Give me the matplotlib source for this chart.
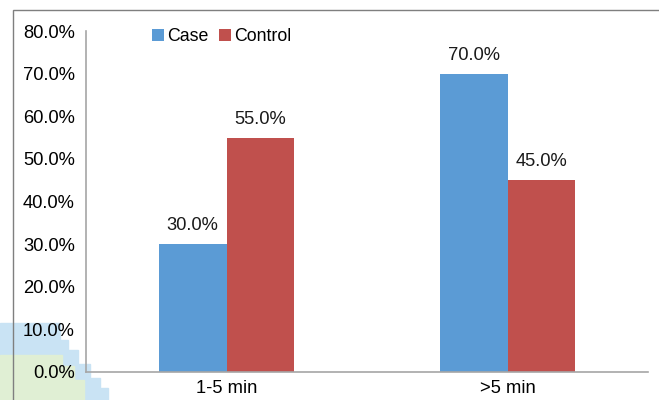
import numpy as np
import matplotlib.pyplot as plt
from matplotlib.patches import Rectangle, Polygon

categories = ['1-5 min', '>5 min']
case_vals = [30.0, 70.0]
control_vals = [55.0, 45.0]
yticks = [0, 10, 20, 30, 40, 50, 60, 70, 80]

plt.rcParams['font.family'] = ['Liberation Sans', 'DejaVu Sans']

fig = plt.figure(figsize=(6.59, 4.0), dpi=100)
W, H = 659.0, 400.0

# faint watermark blocks in the lower left corner (behind everything)
blue_pts = [(0, 323), (60, 323), (60, 340), (68, 340), (68, 350), (78, 350), (78, 364),
            (90, 364), (90, 378), (100, 378), (100, 388), (108, 388), (108, 400), (0, 400)]
green_pts = [(0, 355), (62, 355), (62, 366), (74, 366), (74, 380), (84, 380), (84, 400), (0, 400)]
fig.patches.append(Polygon([(x / W, 1 - y / H) for x, y in blue_pts], closed=True,
                           transform=fig.transFigure, color='#c9e3f4', zorder=-2))
fig.patches.append(Polygon([(x / W, 1 - y / H) for x, y in green_pts], closed=True,
                           transform=fig.transFigure, color='#e0efd4', zorder=-2))

# outer frame
fig.patches.append(Rectangle((13 / W, -0.05), 1.0, 1 - 10 / H + 0.05, transform=fig.transFigure,
                             fill=False, edgecolor='#7f7f7f', linewidth=1.0, zorder=-1))

ax = fig.add_axes([86 / W, 1 - 372 / H, (648 - 86) / W, (372 - 31) / H])
ax.patch.set_alpha(0)

x = np.arange(len(categories))
w = 0.24
b1 = ax.bar(x - w / 2, case_vals, w, color='#5B9BD5', label='Case', zorder=2)
b2 = ax.bar(x + w / 2, control_vals, w, color='#C0504D', label='Control', zorder=2)

fs = 13.2
for bars, vals in [(b1, case_vals), (b2, control_vals)]:
    for rect, v in zip(bars, vals):
        ax.annotate('{:.1f}%'.format(v), (rect.get_x() + rect.get_width() / 2, v),
                    xytext=(0, 7), textcoords='offset points', ha='center', va='bottom',
                    fontsize=fs, color='#1a1a1a')

ax.set_xlim(-0.5, 1.5)
ax.set_ylim(0, 80)
ax.set_xticks(x)
ax.set_xticklabels(categories, fontsize=fs)
ax.set_yticks(yticks)
ax.set_yticklabels(['{:.1f}%'.format(t) for t in yticks], fontsize=fs)
ax.tick_params(length=0, pad=8)
ax.tick_params(axis='x', pad=6)

for s in ['top', 'right']:
    ax.spines[s].set_visible(False)
ax.spines['left'].set_color('#a6a6a6')
ax.spines['bottom'].set_color('#a6a6a6')
ax.spines['left'].set_linewidth(1.2)
ax.spines['bottom'].set_linewidth(1.2)

ax.legend(loc='upper left', bbox_to_anchor=(0.105, 1.03), ncol=2, frameon=False,
          fontsize=12.8, handlelength=0.65, handleheight=0.65, handletextpad=0.2,
          columnspacing=0.6, borderaxespad=0)

fig.savefig('out.png', dpi=100)
